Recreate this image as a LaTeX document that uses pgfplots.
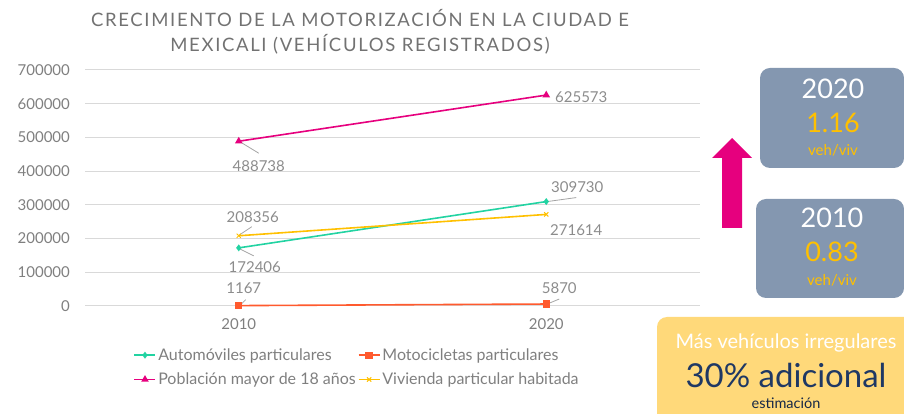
\documentclass[border=0pt]{standalone}
\usepackage{pgfplots}
\pgfplotsset{compat=1.18}
\usepackage{pgfplotstable}
\usepackage{fontspec}
\setmainfont{Lato}
\newfontfamily\titlefont[LetterSpace=9]{Lato}

\definecolor{cauto}{HTML}{22D3A2}
\definecolor{cmoto}{HTML}{FF5A2E}
\definecolor{cpob}{HTML}{E6007E}
\definecolor{cviv}{HTML}{FFC000}
\definecolor{txtgray}{HTML}{7F7F7F}
\definecolor{lblgray}{HTML}{8C8C8C}
\definecolor{gridgray}{HTML}{D9D9D9}
\definecolor{boxblue}{HTML}{8497B0}
\definecolor{boxyellow}{HTML}{FFD97A}
\definecolor{navy}{HTML}{1F3864}

% x = 0 (2010), 1 (2020); dx/dy = label offset in pt
\pgfplotstableread{
x y dx dy
0 172406 16 -19
1 309730 31 14
}\autos
\pgfplotstableread{
x y dx dy
0 1167 5 17
1 5870 13 16
}\motos
\pgfplotstableread{
x y dx dy
0 488738 20 -25
1 625573 35 -2
}\pob
\pgfplotstableread{
x y dx dy
0 208356 14 19
1 271614 30 -16
}\viv

\begin{document}
\begin{tikzpicture}[x=1pt,y=1pt]
\path[use as bounding box] (0,0) rectangle (904,414);

\node[text=txtgray!90!black, align=center, font=\titlefont\fontsize{18.5}{25}\selectfont] at (360,382)
  {CRECIMIENTO DE LA MOTORIZACIÓN EN LA CIUDAD E\\MEXICALI (VEHÍCULOS REGISTRADOS)};

\begin{axis}[
  at={(85pt,108pt)}, anchor=south west,
  scale only axis, width=615pt, height=236pt,
  xmin=-0.5, xmax=1.5, ymin=0, ymax=700000,
  xtick={0,1}, xticklabels={2010,2020},
  ytick distance=100000, scaled y ticks=false,
  axis line style={draw=none}, major tick length=0pt,
  ymajorgrids, grid style={gridgray, line width=1pt},
  /pgf/number format/assume math mode=true,
  yticklabel style={/pgf/number format/fixed, /pgf/number format/1000 sep={}, xshift=-11pt},
  xticklabel style={yshift=-9pt},
  tick label style={text=txtgray, font=\fontsize{15}{18}\selectfont},
  clip=false,
  line width=1.6pt,
  every axis plot/.append style={mark size=2.2pt},
  lbl/.style={
    visualization depends on={\thisrow{dx} \as \dx},
    visualization depends on={\thisrow{dy} \as \dy},
    nodes near coords={\pgfmathprintnumber[fixed,precision=0,1000 sep={}]{\pgfplotspointmeta}},
    every node near coord/.append style={anchor=center, xshift=\dx pt, yshift=\dy pt,
      text=lblgray, font=\fontsize{15}{18}\selectfont},
  },
  legend columns=2,
  legend cell align=left,
  legend style={at={(0.073,-0.16)}, anchor=north west, draw=none, fill=none,
    font=\fontsize{16}{18}\selectfont, text=txtgray, row sep=7pt,
    /tikz/every even column/.append style={column sep=0pt}},
  legend image code/.code={
    \draw[mark repeat=2, mark phase=2] plot coordinates {(0pt,0pt) (10.5pt,0pt) (21pt,0pt)};},
]
\addplot[lbl, cauto, mark=diamond*, mark options={solid, fill=cauto}] table[x=x,y=y] {\autos};
\addplot[lbl, cmoto, mark=square*, mark size=2.8pt] table[x=x,y=y] {\motos};
\addplot[lbl, cpob, mark=triangle*, mark size=2.8pt] table[x=x,y=y] {\pob};
\addplot[lbl, cviv, mark=x, mark size=3pt, mark options={line width=1pt}] table[x=x,y=y] {\viv};
\legend{Automóviles particulares, Motocicletas particulares,
        Población mayor de 18 años, Vivienda particular habitada}

% leader lines
\begin{scope}[line width=0.8pt, lblgray!80]
\draw ([shift={(2pt,-1pt)}]axis cs:0,488738) -- ([shift={(20pt,-12pt)}]axis cs:0,488738);
\draw ([shift={(1pt,0pt)}]axis cs:1,309730) -- ([shift={(30pt,4pt)}]axis cs:1,309730);
\draw ([shift={(1pt,1pt)}]axis cs:0,208356) -- ([shift={(13pt,9pt)}]axis cs:0,208356);
\draw ([shift={(1pt,-1pt)}]axis cs:0,172406) -- ([shift={(15pt,-8pt)}]axis cs:0,172406);
\draw ([shift={(2pt,1pt)}]axis cs:0,1167) -- ([shift={(7pt,6pt)}]axis cs:0,1167);
\draw ([shift={(1pt,0pt)}]axis cs:1,5870) -- ([shift={(13pt,5pt)}]axis cs:1,5870);
\end{scope}
\end{axis}

% arrow
\fill[cpob] (722,186) -- (742,186) -- (742,256) -- (752,256) -- (732,276)
  -- (712,256) -- (722,256) -- cycle;

% 2020 box
\fill[boxblue, rounded corners=10pt] (760,246) rectangle (904,346);
\node[text=white, font=\fontsize{27}{29}\selectfont] at (833,325) {2020};
\node[text=cviv, font=\fontsize{27}{29}\selectfont] at (833,291) {1.16};
\node[text=cviv, font=\fontsize{15}{17}\selectfont] at (833,264) {veh/viv};

% 2010 box
\fill[boxblue, rounded corners=10pt] (756,116) rectangle (904,215);
\node[text=white, font=\fontsize{27}{29}\selectfont] at (832,196) {2010};
\node[text=cviv, font=\fontsize{27}{29}\selectfont] at (832,162) {0.83};
\node[text=cviv, font=\fontsize{15}{17}\selectfont] at (832,134) {veh/viv};

% bottom box
\fill[boxyellow, rounded corners=10pt] (657,-10) rectangle (914,97);
\node[text=white, font=\fontsize{20}{22}\selectfont] at (786,71) {Más vehículos irregulares};
\node[text=navy, font=\fontsize{33}{35}\selectfont] at (786,39) {30\% adicional};
\node[text=navy!70!black, font=\fontsize{14.5}{16}\selectfont] at (786,11) {estimación};
\end{tikzpicture}
\end{document}
